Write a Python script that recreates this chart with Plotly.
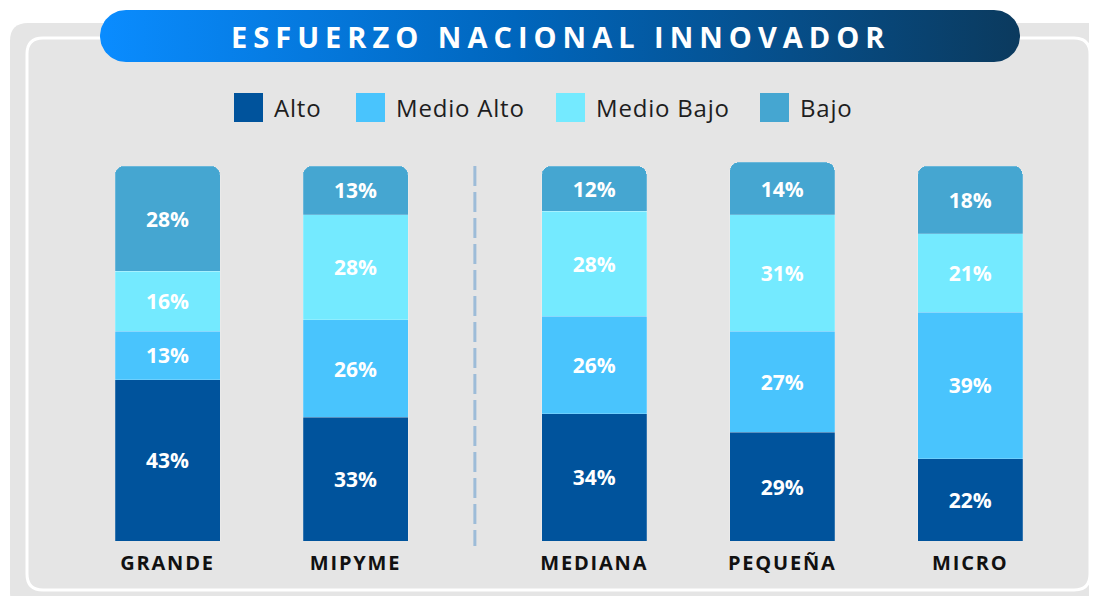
import numpy as np
import plotly.graph_objects as go

# ---------------- data ----------------
categories = ["GRANDE", "MIPYME", "MEDIANA", "PEQUEÑA", "MICRO"]
alto = [43, 33, 34, 29, 22]
medio_alto = [13, 26, 26, 27, 39]
medio_bajo = [16, 28, 28, 31, 21]
bajo = [28, 13, 12, 14, 18]
series_names = ["Alto", "Medio Alto", "Medio Bajo", "Bajo"]
series_colors = ["#00539c", "#49c4fd", "#74eaff", "#45a6d1"]
title_text = "ESFUERZO NACIONAL INNOVADOR"

# ---------------- layout helpers ----------------
OFF = 8                     # page body margin of the browser
W, H = 1097 - OFF, 596 - OFF
BOTTOM_PX = 541             # bar baseline (page pixels)
PX_PER_UNIT_Y = 3.75        # pixels per percent
PX_PER_UNIT_X = 188.0
FIRST_CENTER_PX = 167.5     # page pixels
GROUP_GAP = 0.27            # extra space after the first two bars

positions = [i + (GROUP_GAP if i >= 2 else 0) for i in range(len(categories))]

def px(x):
    return (x - OFF) / W

def py(y):
    return 1 - (y - OFF) / H

def rounded_rect_path(x0, y0, x1, y1, r):
    pts = [
        ("M", [(x0 + r, y0)]),
        ("L", [(x1 - r, y0)]),
        ("Q", [(x1, y0), (x1, y0 + r)]),
        ("L", [(x1, y1 - r)]),
        ("Q", [(x1, y1), (x1 - r, y1)]),
        ("L", [(x0 + r, y1)]),
        ("Q", [(x0, y1), (x0, y1 - r)]),
        ("L", [(x0, y0 + r)]),
        ("Q", [(x0, y0), (x0 + r, y0)]),
    ]
    s = ""
    for cmd, ps in pts:
        s += cmd + " ".join(f"{px(a):.5f},{py(b):.5f}" for a, b in ps) + " "
    return s + "Z"

fig = go.Figure()

# ---------------- bars ----------------
for name, vals, col in zip(series_names, [alto, medio_alto, medio_bajo, bajo], series_colors):
    fig.add_trace(go.Bar(
        x=positions, y=vals, name=name,
        marker=dict(color=col, line=dict(width=0.8, color="rgba(255,255,255,0.25)")),
        width=105 / PX_PER_UNIT_X,
        texttemplate="%{y}%", textposition="inside", insidetextanchor="middle",
        textangle=0,
        textfont=dict(family="Open Sans", size=21, color="white", weight="bold"),
        hoverinfo="skip", showlegend=False,
    ))

# ---------------- title pill (gradient) ----------------
pill_x0, pill_x1, pill_y0, pill_y1 = 100, 1020, 10, 62
r = (pill_y1 - pill_y0) / 2
cy = (pill_y0 + pill_y1) / 2
t1 = np.linspace(-np.pi / 2, np.pi / 2, 40)
t2 = np.linspace(np.pi / 2, 3 * np.pi / 2, 40)
xs = list(pill_x1 - r + r * np.cos(t1)) + list(pill_x0 + r + r * np.cos(t2))
ys = list(cy + r * np.sin(t1)) + list(cy + r * np.sin(t2))
fig.add_trace(go.Scatter(
    x=xs + [xs[0]], y=ys + [ys[0]], xaxis="x2", yaxis="y2",
    mode="lines", line=dict(width=0), fill="toself",
    fillgradient=dict(type="horizontal",
                      colorscale=[[0, "#0a8cff"], [0.45, "#0066bd"], [1, "#0b3a5e"]]),
    hoverinfo="skip", showlegend=False,
))

shapes = []
annotations = []

# background panel and inner outline
shapes.append(dict(type="path", xref="paper", yref="paper", layer="below",
                   path=rounded_rect_path(10, 23, 1125, 610, 18),
                   fillcolor="#e5e5e5", line=dict(width=0)))
shapes.append(dict(type="path", xref="paper", yref="paper", layer="below",
                   path=rounded_rect_path(27, 38, 1090, 590, 16),
                   fillcolor="rgba(0,0,0,0)", line=dict(width=3, color="white")))

# dashed separator
sep_x = (positions[1] + positions[2]) / 2
shapes.append(dict(type="line", xref="x", yref="paper", x0=sep_x, x1=sep_x,
                   y0=py(166), y1=py(546), layer="below",
                   line=dict(color="#9dbcd8", width=3, dash="20px,6px")))

# custom legend
legend_swatch_px = [234, 356, 556, 760]
for name, col, sx in zip(series_names, series_colors, legend_swatch_px):
    shapes.append(dict(type="rect", xref="paper", yref="paper",
                       x0=px(sx), x1=px(sx + 29), y0=py(93), y1=py(122),
                       fillcolor=col, line=dict(width=0)))
    annotations.append(dict(xref="paper", yref="paper", x=px(sx + 38), y=py(107.5),
                            text=f'<span style="letter-spacing:0.8px">{name}</span>',
                            showarrow=False, xanchor="left", yanchor="middle",
                            font=dict(family="Open Sans", size=24, color="#1e1e1e")))

# title text
annotations.append(dict(xref="paper", yref="paper", x=px(560), y=py(36),
                        text=f'<span style="letter-spacing:6px">{title_text}</span>',
                        showarrow=False, xanchor="center", yanchor="middle",
                        font=dict(family="Open Sans", size=29, color="white", weight="bold")))

fig.update_layout(
    width=W, height=H,
    margin=dict(l=0, r=0, t=0, b=0),
    paper_bgcolor="white", plot_bgcolor="rgba(0,0,0,0)",
    barmode="stack", barcornerradius=9,
    shapes=shapes, annotations=annotations,
    xaxis=dict(domain=[0, 1],
               range=[-(FIRST_CENTER_PX - OFF) / PX_PER_UNIT_X,
                      (W - (FIRST_CENTER_PX - OFF)) / PX_PER_UNIT_X],
               tickvals=positions,
               ticktext=[f'<span style="letter-spacing:1.8px">{c}</span>' for c in categories],
               tickfont=dict(family="Open Sans", size=20, color="#111111", weight="bold"),
               showgrid=False, zeroline=False, showline=False, ticks="",
               ticklabelstandoff=8, fixedrange=True),
    yaxis=dict(domain=[(H - (BOTTOM_PX - OFF)) / H, 1],
               range=[0, (BOTTOM_PX - OFF) / PX_PER_UNIT_Y],
               visible=False, showgrid=False, zeroline=False, fixedrange=True),
    xaxis2=dict(domain=[0, 1], range=[OFF, OFF + W], anchor="y2", visible=False, fixedrange=True),
    yaxis2=dict(domain=[0, 1], range=[OFF + H, OFF], anchor="x2", visible=False, fixedrange=True),
    font=dict(family="Open Sans"),
)

fig.write_html("out.html")
